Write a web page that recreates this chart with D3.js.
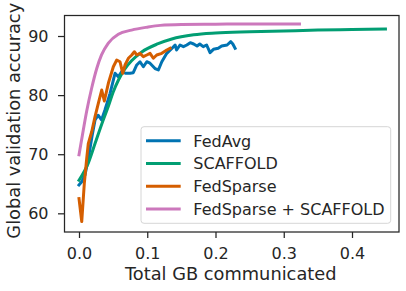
<!DOCTYPE html>
<html>
<head>
<meta charset="utf-8">
<script src="https://cdn.jsdelivr.net/npm/d3@7"></script>
<style>
  html, body { margin: 0; padding: 0; background: #fff; }
  svg { display: block; font-family: "DejaVu Sans", sans-serif; }
</style>
</head>
<body>
<svg id="chart" width="406" height="291"></svg>
<script>
// ---- data ----
const seriesNames = ["FedAvg", "SCAFFOLD", "FedSparse", "FedSparse + SCAFFOLD"];

const fedAvgGB = [0,0.004,0.0088,0.014,0.019,0.0235,0.028,0.033,0.038,0.0455,0.0503,0.0528,0.0576,0.0626,0.068,0.0748,0.0795,0.0846,0.0894,0.0943,0.0993,0.104,0.1114,0.1163,0.1213,0.1286,0.136,0.1408,0.143,0.148,0.153,0.158,0.163,0.168,0.173,0.177,0.182,0.187,0.192,0.197,0.204,0.209,0.217,0.2224,0.2254,0.2287];
const fedAvgAcc = [64.8,65.35,66.5,69.5,73.0,75.8,76.6,75.8,77.5,80.3,82.55,83.7,83.1,84.0,83.7,83.7,83.8,85.1,85.65,84.8,85.65,85.4,84.5,84.25,85.65,87.07,87.9,88.48,87.63,88.48,88.2,88.48,88.87,88.65,88.3,88.65,88.2,88.48,87.18,87.75,87.92,88.3,88.48,89.04,88.65,87.92];

const scaffoldGB = [0,0.0136,0.0235,0.033,0.043,0.05,0.058,0.067,0.077,0.092,0.116,0.136,0.168,0.2,0.25,0.3,0.35,0.4,0.449];
const scaffoldAcc = [65.6,68.5,71.8,75.0,78.1,80.5,82.6,84.4,85.8,87.3,88.7,89.5,90.2,90.5,90.7,90.85,91.0,91.1,91.2];

const fedSparseGB = [0,0.004,0.0078,0.0113,0.0136,0.0186,0.0235,0.0283,0.0333,0.0371,0.043,0.0503,0.0553,0.0601,0.0641,0.0674,0.0723,0.0773,0.0811,0.0846,0.0894,0.0943,0.0993,0.1041,0.1089,0.1139,0.1213,0.1286,0.1334];
const fedSparseAcc = [62.5,58.6,65.1,69.3,71.8,73.8,76.35,78.6,80.86,79.0,82.0,84.8,85.94,85.65,83.69,85.09,86.23,86.79,87.34,86.79,87.07,86.5,86.79,87.07,86.23,86.79,87.07,87.63,87.92];

const fsScaffoldGB = [0,0.0063,0.0113,0.0186,0.026,0.033,0.043,0.0576,0.077,0.1,0.119,0.15,0.2,0.25,0.323];
const fsScaffoldAcc = [69.9,74.1,77.3,81.2,84.5,86.8,88.8,90.3,91.0,91.5,91.8,91.95,92.0,92.05,92.05];

const xTicks = [0, 0.1, 0.2, 0.3, 0.4];
const yTicks = [60, 70, 80, 90];
const xLabel = "Total GB communicated";
const yLabel = "Global validation accuracy";
const colors = ["#0173b2", "#029e73", "#d55e00", "#cc78bc"];

// ---- layout ----
const svg = d3.select("#chart");
const L = 64.5, R = 399, T = 15.5, B = 232;
const x = d3.scaleLinear().domain([-0.02125, 0.46886]).range([L, R]);
const y = d3.scaleLinear().domain([56.84, 93.47]).range([B, T]);

const series = [
  {name: seriesNames[0], xs: fedAvgGB, ys: fedAvgAcc, smooth: false},
  {name: seriesNames[1], xs: scaffoldGB, ys: scaffoldAcc, smooth: true},
  {name: seriesNames[2], xs: fedSparseGB, ys: fedSparseAcc, smooth: false},
  {name: seriesNames[3], xs: fsScaffoldGB, ys: fsScaffoldAcc, smooth: true}
];

svg.append("defs").append("clipPath").attr("id", "clip")
  .append("rect").attr("x", L).attr("y", T).attr("width", R - L).attr("height", B - T);

const g = svg.append("g").attr("clip-path", "url(#clip)");
series.forEach((s, i) => {
  const pts = s.xs.map((v, k) => [v, s.ys[k]]);
  const line = d3.line().x(d => x(d[0])).y(d => y(d[1]))
    .curve(s.smooth ? d3.curveMonotoneX : d3.curveLinear);
  g.append("path").datum(pts)
    .attr("d", line)
    .attr("fill", "none")
    .attr("stroke", colors[i])
    .attr("stroke-width", 3)
    .attr("stroke-linejoin", "round")
    .attr("stroke-linecap", "square");
});

// axes
const xAxis = svg.append("g").attr("transform", `translate(0,${B})`)
  .call(d3.axisBottom(x).tickValues(xTicks).tickFormat(d3.format(".1f")).tickSize(6).tickPadding(9.5));
const yAxis = svg.append("g").attr("transform", `translate(${L},0)`)
  .call(d3.axisLeft(y).tickValues(yTicks).tickFormat(d3.format("d")).tickSize(6.5).tickPadding(9.5));
[xAxis, yAxis].forEach(a => {
  a.select(".domain").remove();
  a.selectAll(".tick line").attr("stroke", "#262626").attr("stroke-width", 1.25);
  a.selectAll(".tick text").attr("fill", "#262626")
    .style("font-family", "DejaVu Sans").style("font-size", "16px");
});

// frame
svg.append("rect").attr("x", L).attr("y", T).attr("width", R - L).attr("height", B - T)
  .attr("fill", "none").attr("stroke", "#262626").attr("stroke-width", 1.25);

// labels
svg.append("text").attr("x", (L + R) / 2 - 1).attr("y", 280)
  .attr("text-anchor", "middle").attr("fill", "#262626")
  .style("font-size", "17.8px").text(xLabel);
svg.append("text").attr("transform", `translate(20,${(T + B) / 2 - 3}) rotate(-90)`)
  .attr("text-anchor", "middle").attr("fill", "#262626")
  .style("font-size", "17.8px").text(yLabel);

// legend
const lg = svg.append("g");
lg.append("rect").attr("x", 141).attr("y", 126.7).attr("width", 249.7).attr("height", 96.6)
  .attr("rx", 3).attr("fill", "rgba(255,255,255,0.8)")
  .attr("stroke", "#d6d6d6").attr("stroke-width", 1);
series.forEach((s, i) => {
  const cy = 140.7 + i * 22.77;
  lg.append("line").attr("x1", 146).attr("x2", 180.7).attr("y1", cy).attr("y2", cy)
    .attr("stroke", colors[i]).attr("stroke-width", 3);
  lg.append("text").attr("x", 193.3).attr("y", cy + 5.8)
    .attr("fill", "#262626").style("font-size", "16px").text(s.name);
});
</script>
</body>
</html>
